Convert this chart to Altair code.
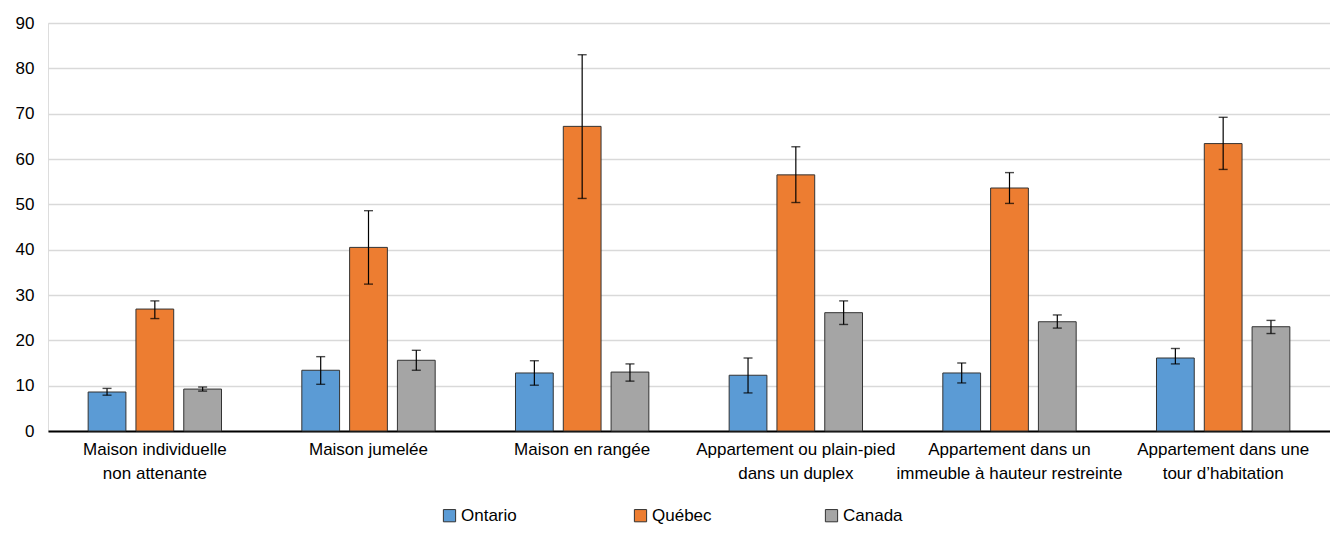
import altair as alt
import pandas as pd

categories = [
    "Maison individuelle\nnon attenante",
    "Maison jumelée",
    "Maison en rangée",
    "Appartement ou plain-pied\ndans un duplex",
    "Appartement dans un\nimmeuble à hauteur restreinte",
    "Appartement dans une\ntour d’habitation",
]
series = ["Ontario", "Québec", "Canada"]
colors = ["#5B9BD5", "#ED7D31", "#A5A5A5"]

ontario = [8.6, 13.4, 12.8, 12.3, 12.8, 16.1]
ontario_lo = [7.9, 10.3, 10.1, 8.4, 10.6, 14.8]
ontario_hi = [9.4, 16.4, 15.5, 16.1, 15.0, 18.2]

quebec = [26.9, 40.5, 67.2, 56.5, 53.6, 63.4]
quebec_lo = [24.8, 32.4, 51.3, 50.4, 50.2, 57.7]
quebec_hi = [28.7, 48.6, 83.0, 62.7, 57.0, 69.2]

canada = [9.25, 15.6, 13.0, 26.1, 24.1, 23.0]
canada_lo = [8.8, 13.4, 11.0, 23.5, 22.7, 21.5]
canada_hi = [9.7, 17.8, 14.8, 28.7, 25.6, 24.4]

rows = []
for s, vals, lo, hi in [
    ("Ontario", ontario, ontario_lo, ontario_hi),
    ("Québec", quebec, quebec_lo, quebec_hi),
    ("Canada", canada, canada_lo, canada_hi),
]:
    for c, v, l, h in zip(categories, vals, lo, hi):
        rows.append({"cat": c, "serie": s, "value": v, "lo": l, "hi": h})
df = pd.DataFrame(rows)

FONT = "Liberation Sans"

x_enc = alt.X(
    "cat:N",
    sort=categories,
    title=None,
    scale=alt.Scale(paddingInner=0, paddingOuter=0),
    axis=alt.Axis(
        labelExpr="split(datum.label, '\\n')",
        labelAngle=0,
        labelFontSize=17,
        labelFont=FONT,
        labelColor="#000000",
        labelLineHeight=24,
        labelPadding=10,
        labelLimit=300,
        ticks=False,
        domainColor="#000000",
        domainWidth=2,
        labelBaseline="top",
    ),
)
xoff = alt.XOffset(
    "serie:N",
    sort=series,
    scale=alt.Scale(paddingInner=0.21, paddingOuter=0.84),
)
y_scale = alt.Scale(domain=[0, 90], nice=False)

bars = alt.Chart(df).mark_bar(stroke="#333333", strokeWidth=1).encode(
    x=x_enc,
    xOffset=xoff,
    y=alt.Y(
        "value:Q",
        scale=y_scale,
        title=None,
        axis=alt.Axis(
            values=list(range(0, 91, 10)),
            labelFontSize=17,
            labelFont=FONT,
            labelColor="#000000",
            labelPadding=14,
            ticks=False,
            domain=False,
            gridColor="#d9d9d9",
            gridWidth=1.3,
        ),
    ),
    color=alt.Color(
        "serie:N",
        sort=series,
        scale=alt.Scale(domain=series, range=colors),
        legend=alt.Legend(
            title=None,
            orient="none",
            legendX=393,
            legendY=484,
            direction="horizontal",
            columns=3,
            gridAlign="all",
            columnPadding=111,
            symbolType="square",
            symbolSize=150,
            symbolStrokeColor="#333333",
            symbolStrokeWidth=1,
            labelFontSize=17,
            labelFont=FONT,
            labelColor="#000000",
            labelOffset=3,
        ),
    ),
)

rules = alt.Chart(df).mark_rule(color="#000000", strokeWidth=1.2).encode(
    x=alt.X("cat:N", sort=categories),
    xOffset=xoff,
    y=alt.Y("lo:Q", scale=y_scale),
    y2="hi:Q",
)
caps_lo = alt.Chart(df).mark_tick(color="#000000", size=9, thickness=1.4).encode(
    x=alt.X("cat:N", sort=categories),
    xOffset=xoff,
    y=alt.Y("lo:Q", scale=y_scale),
)
caps_hi = alt.Chart(df).mark_tick(color="#000000", size=9, thickness=1.4).encode(
    x=alt.X("cat:N", sort=categories),
    xOffset=xoff,
    y=alt.Y("hi:Q", scale=y_scale),
)

chart = (
    alt.layer(bars, rules, caps_lo, caps_hi)
    .properties(
        width=1282,
        height=408,
        autosize=alt.AutoSizeParams(type="none"),
        padding={"left": 40, "top": 15, "right": 0, "bottom": 94},
    )
    .configure_view(stroke="#000000", strokeWidth=1.2)
    .configure(background="white")
)

chart.save("out.html", embed_options={"renderer": "svg", "actions": False})
